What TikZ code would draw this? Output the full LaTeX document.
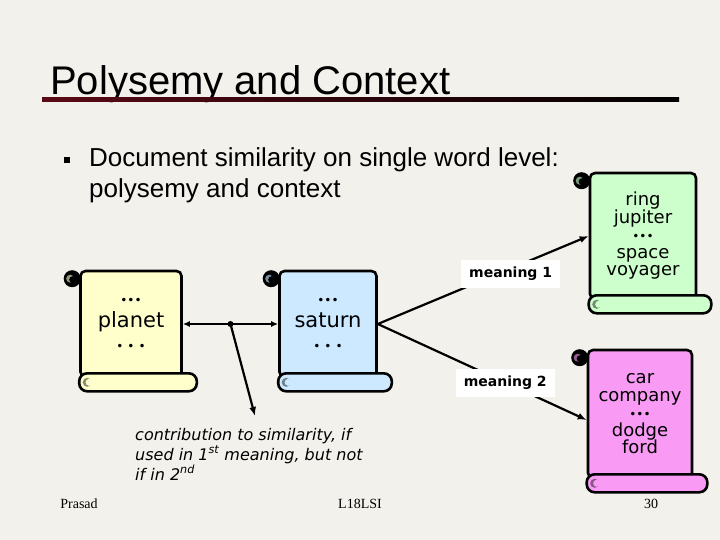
\documentclass[tikz,border=0pt]{standalone}
\usepackage{fontspec}
\setmainfont{Liberation Sans}
\newfontfamily\scrollfont{DejaVu Sans}
\newfontfamily\footfont{Liberation Serif}
\usepackage{tikz}
\usetikzlibrary{arrows.meta,positioning,calc}
\usepackage{xcolor}
\definecolor{slidebg}{HTML}{F2F1EC}
\definecolor{rulered}{HTML}{5A0A16}
\definecolor{planetc}{HTML}{FFFFCC}
\definecolor{saturnc}{HTML}{CCE9FF}
\definecolor{jupiterc}{HTML}{CCFFCC}
\definecolor{carc}{HTML}{F99BF5}
\newcommand\tightdots{{\fontsize{12}{12}\selectfont •••}}
\newcommand\widedots{{\fontsize{12}{12}\selectfont •\,\,•\,\,•}}

\begin{document}
\begin{tikzpicture}[
  x=1pt,y=-1pt,
  scroll/.style={rectangle,rounded corners=5pt,draw=black,line width=2.6pt,align=center,
                 inner sep=0pt,font=\scrollfont},
  roll/.style={draw=black,line width=2.6pt,rounded corners=8pt},
  sense/.style={fill=white,font=\scrollfont\bfseries\fontsize{14}{14}\selectfont,
                inner xsep=8pt,minimum height=28pt},
  arr/.style={-{Latex[length=9pt,width=7pt]},line width=2.2pt,black},
  dbl/.style={{Latex[length=7pt,width=6pt]}-{Latex[length=7pt,width=6pt]},line width=1.8pt,black},
  foot/.style={font=\footfont\fontsize{14}{14}\selectfont,anchor=base}
]
\useasboundingbox[fill=slidebg] (0,0) rectangle (720,540);

% title and rule
\node[anchor=base west,font=\fontsize{40}{40}\selectfont,inner sep=0pt] (title) at (50,95) {Polysemy and Context};
\shade[left color=rulered,right color=black] (42,98) rectangle (679,102);

% bullet item
\node[fill=black,minimum size=6pt,inner sep=0pt] (bullet) at (67,160) {};
\node[anchor=base west,align=left,inner sep=0pt,font=\fontsize{26}{30}\selectfont] (item) at (89,197)
  {Document similarity on single word level:\\polysemy and context};

% scroll bodies
\node[scroll,fill=planetc,minimum width=101pt,minimum height=106pt,font=\scrollfont\fontsize{21}{23}\selectfont] (planet) at (131,324)
  {\tightdots\\planet\\\widedots};
\node[scroll,fill=saturnc,minimum width=97pt,minimum height=106pt,font=\scrollfont\fontsize{21}{23}\selectfont] (saturn) at (328,324)
  {\tightdots\\saturn\\\widedots};
\node[scroll,fill=jupiterc,minimum width=106pt,minimum height=126pt,font=\scrollfont\fontsize{18}{17.5}\selectfont] (jupiter) at (643,236)
  {ring\\jupiter\\\tightdots\\space\\voyager};
\node[scroll,fill=carc,minimum width=104pt,minimum height=128pt,font=\scrollfont\fontsize{18}{17.5}\selectfont] (car) at (640,414)
  {car\\company\\\tightdots\\dodge\\ford};

% curls and rolls
\foreach \s/\c in {planet/planetc,saturn/saturnc,jupiter/jupiterc,car/carc}{
  \draw[roll,fill=\c] ($(\s.south west)+(0,-5)$) rectangle ($(\s.south east)+(14,13)$);
  \fill[\c!55!black] ($(\s.south west)+(8,4)$) circle (4.5pt);
  \fill[\c] ($(\s.south west)+(10,4)$) circle (3.5pt);
  \fill[black] ($(\s.north west)+(-7,9)$) circle (8.5pt);
  \fill[\c!60!black] ($(\s.north west)+(-9,9)$) circle (4pt);
  \fill[black] ($(\s.north west)+(-6.5,10)$) circle (3.5pt);
}

% connectors
\coordinate (contrib) at (255,416);
\draw[dbl] (planet.east) -- coordinate[pos=0.5] (hit) (saturn.west);
\fill (hit) circle (3pt);
\draw[arr] (hit) -- (contrib);
\draw[arr] (saturn.east) -- node[sense,pos=0.63,yshift=-5pt] (m1) {meaning 1} (jupiter.west);
\draw[arr] (saturn.east) -- node[sense,pos=0.61] (m2) {meaning 2} ([yshift=-6pt]car.west);

\node[anchor=base west,align=left,inner sep=0pt,font=\scrollfont\itshape\fontsize{16}{20}\selectfont] (note) at (135,480)
  {contribution to similarity, if\\used in 1\textsuperscript{st} meaning, but not\\if in 2\textsuperscript{nd}};

% footer
\node[foot] (author) at (79,508) {Prasad};
\node[foot] (lect) at (360,508) {L18LSI};
\node[foot] (page) at (651,508) {30};
\end{tikzpicture}
\end{document}
